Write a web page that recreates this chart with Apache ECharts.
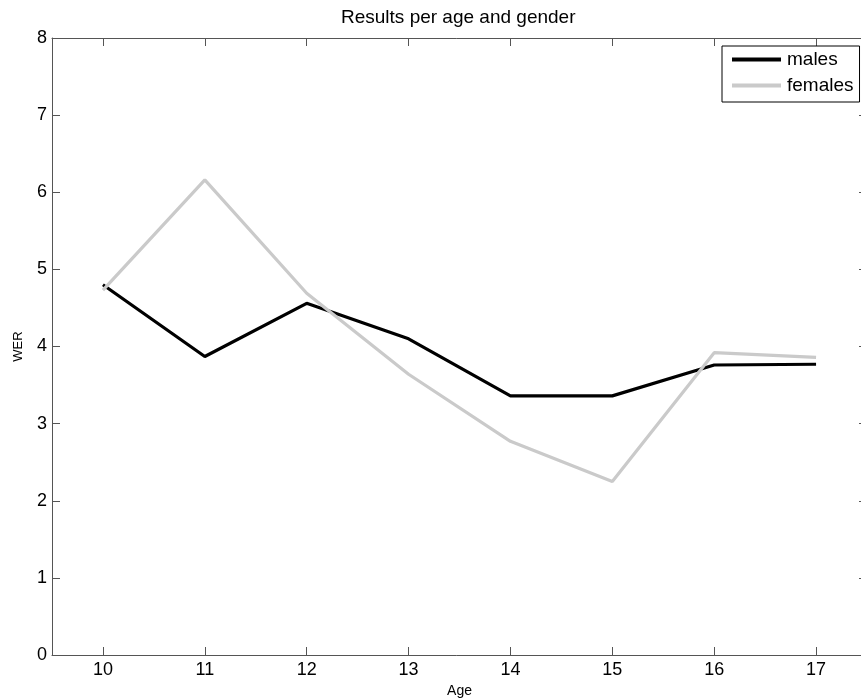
<!DOCTYPE html>
<html>
<head>
<meta charset="utf-8">
<script src="https://cdn.jsdelivr.net/npm/echarts@6/dist/echarts.min.js"></script>
<style>html,body{margin:0;padding:0;background:#fff}#c{width:861px;height:698px}</style>
</head>
<body>
<div id="c"></div>
<script>
const ages = ['10','11','12','13','14','15','16','17'];
const males = [4.80, 3.87, 4.56, 4.10, 3.36, 3.36, 3.76, 3.77];
const females = [4.73, 6.16, 4.69, 3.64, 2.77, 2.25, 3.92, 3.86];
const yTicks = [0,1,2,3,4,5,6,7,8];

const FONT = '"Liberation Sans", Arial, sans-serif';
const axisCol = '#555';
const chart = echarts.init(document.getElementById('c'), null, {renderer:'canvas'});
chart.setOption({
  animation: false,
  backgroundColor: '#fff',
  title: {
    text: 'Results per age and gender',
    left: 341, top: 8, padding: 0,
    textStyle: {fontFamily: FONT, fontSize: 19, fontWeight: 'normal', color: '#000'}
  },
  legend: {
    left: 722, top: 46, orient: 'vertical',
    padding: [4, 6, 7, 10],
    itemGap: 7,
    itemWidth: 49, itemHeight: 4, icon: 'rect',
    borderColor: '#000', borderWidth: 1, borderRadius: 0,
    backgroundColor: '#fff',
    textStyle: {fontFamily: FONT, fontSize: 19, color: '#000', padding: [0,0,0,1]},
    data: ['males', 'females']
  },
  grid: {left: 52, top: 38, width: 815, height: 617, containLabel: false, outerBoundsMode: 'none'},
  xAxis: [{
    type: 'category', data: ages, boundaryGap: true, position: 'bottom',
    name: 'Age', nameLocation: 'middle', nameGap: 28,
    nameTextStyle: {fontFamily: FONT, fontSize: 14, color: '#000'},
    axisLine: {show: true, onZero: false, lineStyle: {color: axisCol, width: 1}},
    axisTick: {show: true, inside: true, length: 8, alignWithLabel: true, interval: 0, lineStyle: {color: axisCol, width: 1}},
    axisLabel: {fontFamily: FONT, fontSize: 18, color: '#000', margin: 6},
    splitLine: {show: false}
  }, {
    type: 'category', data: ages, boundaryGap: true, position: 'top',
    axisLine: {show: true, onZero: false, lineStyle: {color: axisCol, width: 1}},
    axisTick: {show: true, inside: true, length: 8, alignWithLabel: true, interval: 0, lineStyle: {color: axisCol, width: 1}},
    axisLabel: {show: false},
    splitLine: {show: false}
  }],
  yAxis: [{
    type: 'value', min: yTicks[0], max: yTicks[yTicks.length-1], interval: 1, position: 'left',
    name: 'WER', nameLocation: 'middle', nameGap: 27, nameRotate: 90,
    nameTextStyle: {fontFamily: FONT, fontSize: 13, color: '#000'},
    axisLine: {show: true, onZero: false, lineStyle: {color: axisCol, width: 1}},
    axisTick: {show: true, inside: true, length: 8, lineStyle: {color: axisCol}},
    axisLabel: {fontFamily: FONT, fontSize: 18, color: '#000', margin: 5},
    splitLine: {show: false}
  }, {
    type: 'value', min: yTicks[0], max: yTicks[yTicks.length-1], interval: 1, position: 'right',
    axisLine: {show: true, onZero: false, lineStyle: {color: axisCol, width: 1}},
    axisTick: {show: true, inside: true, length: 8, lineStyle: {color: axisCol}},
    axisLabel: {show: false},
    splitLine: {show: false}
  }],
  series: [{
    name: 'males', type: 'line', data: males, symbol: 'none',
    xAxisIndex: 0, yAxisIndex: 0,
    lineStyle: {color: '#000', width: 3.2}, itemStyle: {color: '#000'}
  }, {
    name: 'females', type: 'line', data: females, symbol: 'none',
    xAxisIndex: 0, yAxisIndex: 0,
    lineStyle: {color: '#cacaca', width: 3.2}, itemStyle: {color: '#cacaca'}
  }]
});
</script>
</body>
</html>
